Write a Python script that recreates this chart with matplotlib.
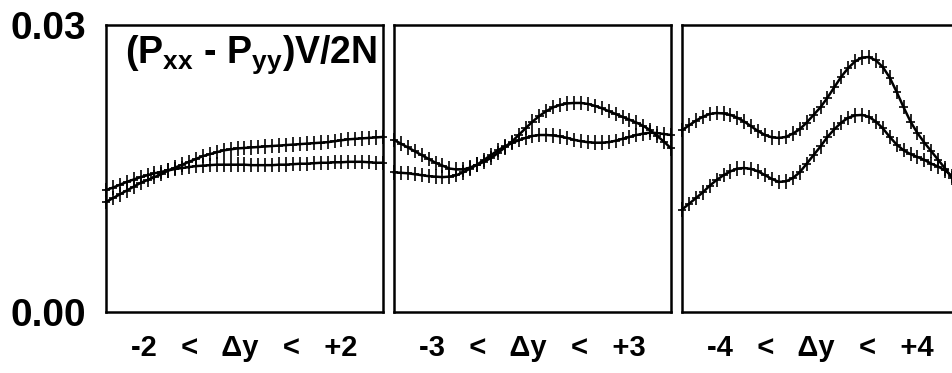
import numpy as np
import matplotlib
matplotlib.use('Agg')
import matplotlib.pyplot as plt

plt.rcParams['font.family'] = ['Liberation Sans', 'DejaVu Sans']
plt.rcParams['font.weight'] = 'bold'
plt.rcParams['mathtext.fontset'] = 'custom'
plt.rcParams['mathtext.rm'] = 'Liberation Sans:bold'
plt.rcParams['mathtext.bf'] = 'Liberation Sans:bold'
plt.rcParams['mathtext.it'] = 'Liberation Sans:bold'
plt.rcParams['mathtext.default'] = 'regular'

# values in units of 0.001
win1_a = [11.5, 11.9, 12.3, 12.7, 13.1, 13.5, 13.8, 14.1, 14.4, 14.8,
          15.1, 15.4, 15.7, 16.0, 16.3, 16.5, 16.7, 16.9, 17.0, 17.1,
          17.15, 17.2, 17.25, 17.3, 17.35, 17.4, 17.45, 17.5, 17.55, 17.6,
          17.65, 17.7, 17.75, 17.85, 17.95, 18.05, 18.1, 18.15, 18.2, 18.25, 18.3]
win1_b = [12.75, 13.0, 13.3, 13.6, 13.85, 14.1, 14.3, 14.5, 14.65, 14.8,
          14.95, 15.05, 15.15, 15.25, 15.3, 15.35, 15.4, 15.4, 15.4, 15.4,
          15.4, 15.35, 15.35, 15.35, 15.35, 15.4, 15.4, 15.45, 15.5, 15.5,
          15.55, 15.6, 15.6, 15.65, 15.65, 15.7, 15.7, 15.7, 15.65, 15.6, 15.6]
win2_a = [17.98, 17.6, 17.2, 16.8, 16.4, 16.0, 15.6, 15.3, 15.0, 14.9,
          14.9, 15.1, 15.4, 15.7, 16.1, 16.6, 17.2, 17.8, 18.5, 19.2,
          19.9, 20.5, 21.0, 21.4, 21.65, 21.8, 21.85, 21.85, 21.75, 21.55,
          21.3, 21.0, 20.7, 20.4, 20.1, 19.8, 19.45, 19.0, 18.4, 17.8, 17.1]
win2_b = [14.6, 14.55, 14.5, 14.4, 14.3, 14.2, 14.15, 14.1, 14.15, 14.3,
          14.6, 15.0, 15.4, 15.9, 16.4, 16.9, 17.3, 17.65, 17.95, 18.2,
          18.4, 18.5, 18.5, 18.45, 18.35, 18.2, 18.0, 17.85, 17.75, 17.7,
          17.7, 17.75, 17.9, 18.1, 18.3, 18.5, 18.65, 18.75, 18.7, 18.6, 18.5]
win3_a = [19.0, 19.5, 20.0, 20.4, 20.7, 20.8, 20.75, 20.6, 20.3, 19.9,
          19.4, 18.9, 18.5, 18.25, 18.2, 18.3, 18.65, 19.1, 19.8, 20.6,
          21.4, 22.4, 23.5, 24.6, 25.5, 26.2, 26.6, 26.65, 26.3, 25.6,
          24.5, 23.0, 21.4, 19.9, 18.7, 17.7, 16.8, 15.9, 15.0, 14.0, 13.5]
win3_b = [10.7, 11.3, 11.9, 12.5, 13.2, 13.8, 14.3, 14.7, 15.0, 15.05,
          14.95, 14.7, 14.3, 13.9, 13.6, 13.65, 14.0, 14.6, 15.5, 16.4,
          17.3, 18.3, 19.1, 19.8, 20.3, 20.55, 20.6, 20.4, 19.9, 19.2,
          18.3, 17.5, 16.9, 16.5, 16.2, 15.9, 15.5, 15.2, 14.8, 14.2, 13.9]

half_widths = [2, 3, 4]
windows = [(win1_a, win1_b), (win2_a, win2_b), (win3_a, win3_b)]
window_labels = ['-2   <   \u0394y   <   +2', '-3   <   \u0394y   <   +3',
                 '-4   <   \u0394y   <   +4']
err = 0.75  # same units

fig = plt.figure(figsize=(9.53, 3.73), dpi=100)
lefts = [106, 394, 682]

for i, (hw, (sa, sb), lab) in enumerate(zip(half_widths, windows, window_labels)):
    ax = fig.add_axes([lefts[i] / 953, 61 / 373, 277 / 953, 287 / 373])
    x = np.linspace(-hw, hw, len(sa))
    dx = x[1] - x[0]
    for s in (sa, sb):
        y = np.array(s) * 0.001
        ax.plot(x, y, color='black', lw=1.8, clip_on=False, zorder=3)
        ax.errorbar(x, y, yerr=err * 0.001, xerr=dx * 0.6, fmt='none',
                    ecolor='black', elinewidth=1.2, capsize=0, clip_on=False)
    ax.set_xlim(-hw, hw)
    ax.set_ylim(0, 0.03)
    for sp in ax.spines.values():
        sp.set_linewidth(1.8)
    ax.set_xticks([])
    ax.tick_params(axis='y', length=0, pad=14, labelsize=28)
    if i == 0:
        ax.set_yticks([0.0, 0.03])
        ax.set_yticklabels(['0.00', '0.03'], fontweight='bold')
        ax.text(0.069, 0.895, '(P$_{xx}$ - P$_{yy}$)V/2N',
                transform=ax.transAxes, fontsize=27, fontweight='bold',
                va='center', ha='left')
    else:
        ax.set_yticks([])
    ax.set_xlabel(lab, fontsize=21, fontweight='bold', labelpad=16)

fig.savefig('out.png', dpi=100)
